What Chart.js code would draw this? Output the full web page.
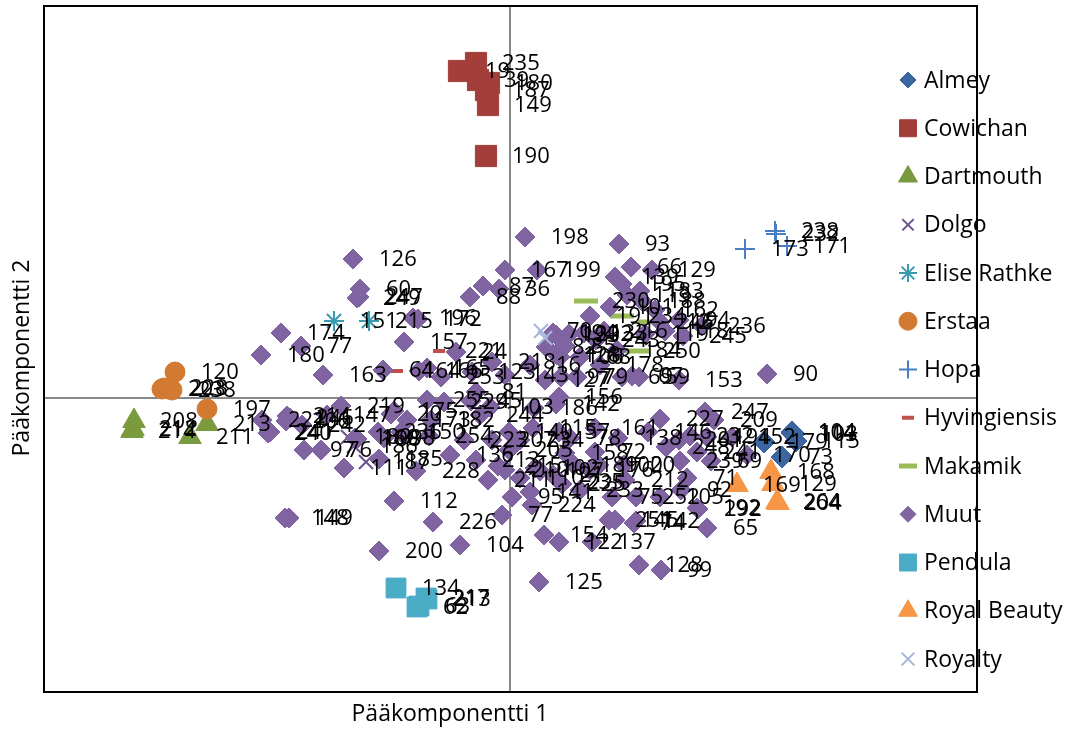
<!DOCTYPE html>
<html>
<head>
<meta charset="utf-8">
<script src="https://cdn.jsdelivr.net/npm/chart.js@4.4.1/dist/chart.umd.min.js"></script>
<style>
  html, body { margin: 0; background: #fff; }
</style>
</head>
<body>
<canvas id="pca" width="1074" height="729"></canvas>
<script>
// principal component scores: [PC1, PC2, id]
const almey = [[2.82,-0.34,'104'],[2.82,-0.35,'114'],[2.84,-0.36,'103'],[2.86,-0.43,'115'],[2.54,-0.44,'179'],[2.72,-0.59,'73']];
const cowichan = [[-0.34,3.35,'235'],[-0.51,3.27,'19'],[-0.32,3.18,'39'],[-0.21,3.15,'180'],[-0.24,3.08,'187'],[-0.22,2.93,'149'],[-0.24,2.42,'190']];
const dartmouth = [[-3.76,-0.23,'208'],[-3.77,-0.31,'212'],[-3.78,-0.33,'214'],[-3.03,-0.26,'213'],[-3.20,-0.39,'211']];
const dolgo = [[-1.62,-0.39,'180'],[-1.56,-0.48,'186'],[-1.44,-0.64,'187']];
const eliseRathke = [[-1.76,0.77,'151'],[-1.41,0.77,'215']];
const erstaa = [[-3.35,0.26,'120'],[-3.48,0.09,'203'],[-3.46,0.10,'228'],[-3.38,0.08,'238'],[-3.03,-0.11,'197']];
const hopa = [[2.35,1.49,'173'],[2.65,1.67,'238'],[2.66,1.64,'232'],[2.77,1.52,'171']];
const hyvingiensis = [[-1.13,0.27,'164'],[-0.71,0.47,'221']];
const makamik = [[0.76,0.97,'230'],[1.12,0.82,'234'],[1.40,0.76,'246'],[1.27,0.47,'250']];
const muut = [
  [0.15,1.61,'198'],[1.09,1.54,'93'],[-1.57,1.39,'126'],[-0.05,1.28,'167'],[0.27,1.28,'199'],
  [1.21,1.31,'66'],[1.42,1.28,'129'],[1.05,1.21,'139'],[1.12,1.14,'195'],[1.30,1.07,'183'],
  [1.32,0.97,'188'],[1.45,0.88,'162'],[1.50,0.76,'12'],[1.69,0.78,'94'],[1.92,0.72,'236'],
  [1.73,0.62,'245'],[1.55,0.67,'118'],[1.35,0.64,'119'],[-1.50,1.09,'60'],[-1.53,1.00,'249'],
  [-1.51,1.01,'247'],[-0.27,1.12,'87'],[-0.40,1.01,'88'],[-0.11,1.09,'36'],[-0.97,0.80,'196'],
  [-0.92,0.79,'172'],[-2.29,0.65,'174'],[-2.09,0.52,'77'],[-2.49,0.43,'180'],[-1.87,0.23,'163'],
  [-1.06,0.56,'157'],[0.43,0.65,'194'],[0.46,0.63,'193'],[0.59,0.64,'202'],[0.74,0.65,'133'],
  [0.94,0.67,'216'],[0.86,0.58,'243'],[0.36,0.51,'82'],[0.55,0.52,'85'],[0.47,0.43,'128'],
  [0.50,0.41,'106'],[0.70,0.41,'68'],[-0.18,0.36,'218'],[0.20,0.33,'16'],[0.51,0.21,'97'],
  [0.67,0.21,'79'],[1.12,0.21,'69'],[1.22,0.22,'67'],[1.29,0.21,'59'],[1.69,0.18,'153'],
  [2.57,0.24,'90'],[-0.54,0.46,'24'],[-1.27,0.28,'64'],[-0.83,0.30,'165'],[-0.91,0.27,'166'],
  [-0.69,0.21,'253'],[-0.34,0.06,'81'],[-0.83,-0.02,'255'],[-0.66,-0.04,'229'],[-0.39,-0.03,'45'],
  [-1.16,-0.13,'175'],[-1.19,-0.16,'20'],[-1.03,-0.22,'173'],[-0.79,-0.22,'182'],[-0.20,-0.09,'103'],
  [-0.30,-0.17,'244'],[-0.81,-0.38,'254'],[-0.46,-0.42,'223'],[-0.01,-0.34,'140'],[-0.34,-0.62,'213'],
  [-0.01,-0.52,'205'],[-0.05,-0.72,'210'],[-0.12,-0.68,'215'],[0.25,-0.70,'102'],[0.30,-0.73,'107'],
  [-1.55,-0.40,'160'],[-1.53,-0.41,'108'],[-1.26,-0.40,'98'],[-2.23,-0.18,'214'],[-2.20,-0.20,'246'],
  [-1.83,-0.17,'147'],[-1.69,-0.08,'219'],[-2.42,-0.35,'240'],[-2.40,-0.34,'241'],[-2.24,-0.23,'206'],
  [-2.06,-0.52,'97'],[-1.89,-0.52,'76'],[-1.66,-0.70,'111'],[-0.94,-0.73,'228'],[-1.16,-1.03,'112'],
  [0.49,0.01,'156'],[0.24,-0.10,'186'],[0.46,-0.06,'142'],[0.49,-0.34,'57'],[0.60,-0.40,'78'],
  [0.85,-0.30,'161'],[0.55,-0.55,'158'],[0.85,-0.54,'72'],[0.64,-0.67,'189'],[0.89,-0.67,'100'],
  [1.14,-0.67,'20'],[0.43,-0.77,'21'],[0.50,-0.84,'235'],[0.52,-0.86,'225'],[0.20,-0.94,'141'],
  [0.02,-0.99,'95'],[0.22,-1.07,'224'],[-0.08,-1.17,'77'],[1.02,-0.99,'75'],[1.26,-0.99,'252'],
  [0.99,-1.22,'251'],[1.24,-1.25,'74'],[1.26,-1.23,'142'],[0.34,-1.37,'154'],[0.49,-1.44,'122'],
  [0.82,-1.44,'137'],[1.29,-1.67,'128'],[1.51,-1.72,'99'],[0.29,-1.84,'125'],[-0.50,-1.47,'104'],
  [-0.77,-1.24,'226'],[-1.31,-1.53,'200'],[-2.25,-1.20,'148'],[-2.21,-1.20,'149'],[1.50,-0.21,'227'],
  [1.95,-0.14,'247'],[2.04,-0.22,'209'],[1.69,-0.42,'201'],[1.97,-0.39,'194'],[2.22,-0.39,'152'],
  [2.37,-0.57,'170'],[1.70,-0.63,'239'],[2.01,-0.63,'69'],[1.71,-0.92,'92'],[1.77,-0.80,'71'],
  [1.87,-1.10,'192'],[1.88,-1.11,'292'],[1.97,-1.30,'65'],[-2.48,-0.22,'221'],[-2.08,-0.27,'242'],
  [-1.31,-0.61,'185'],[-1.32,-0.34,'236'],[-1.09,-0.34,'150'],[-0.60,-0.57,'136'],[-0.18,-0.42,'207'],
  [0.10,-0.42,'234'],[0.23,-0.30,'115'],[0.10,-0.80,'110'],[-0.22,-0.82,'211'],[0.70,-0.92,'233'],
  [0.80,-0.72,'176'],[1.15,-0.82,'212'],[1.38,-0.34,'146'],[1.80,-0.38,'232'],[1.87,-0.54,'241'],
  [1.56,-0.49,'248'],[1.08,-0.40,'138'],[1.05,-1.22,'145'],[1.50,-0.99,'105'],
  [0.80,0.82,'191'],[1.00,0.91,'101'],[1.17,1.03,'113'],[0.90,0.33,'178'],
  [1.07,0.48,'184'],[0.35,0.18,'127'],[-0.05,0.23,'143'],[-0.38,0.26,'123']
];
const pendula = [[-1.14,-1.90,'134'],[-0.84,-2.00,'217'],[-0.83,-2.01,'213'],[-0.93,-2.09,'62'],[-0.91,-2.08,'63']];
const royalBeauty = [[2.27,-0.87,'169'],[2.61,-0.74,'168'],[2.63,-0.86,'129'],[2.67,-1.04,'264'],[2.68,-1.05,'204']];
const royalty = [[0.31,0.67,'70'],[0.35,0.60,'']];

const seriesNames = ['Almey','Cowichan','Dartmouth','Dolgo','Elise Rathke','Erstaa','Hopa','Hyvingiensis','Makamik','Muut','Pendula','Royal Beauty','Royalty'];
const seriesData = [almey,cowichan,dartmouth,dolgo,eliseRathke,erstaa,hopa,hyvingiensis,makamik,muut,pendula,royalBeauty,royalty];

// marker look per series, Excel 2007 palette
const looks = [
  {color:'#3B66A2', style:'rectRot',  r:11, bw:1, lr:8},
  {color:'#A33E3A', style:'rect',     r:15, bw:1, lr:12},
  {color:'#7A9A3E', style:'triangle', r:13, bw:1, lr:11},
  {color:'#6A5290', style:'crossRot', r:10, bw:2, lr:8},
  {color:'#3A9AB0', style:'star',     r:10, bw:2, lr:9},
  {color:'#D27A32', style:'circle',   r:10, bw:1, lr:9},
  {color:'#4A7EC4', style:'cross',    r:10, bw:2, lr:9},
  {color:'#C0504D', style:'line',     r:6,  bw:4, lr:6},
  {color:'#9BBB59', style:'line',     r:12, bw:5, lr:9},
  {color:'#8064A2', style:'rectRot',  r:10, bw:1, lr:8},
  {color:'#4BACC6', style:'rect',     r:14, bw:1, lr:12},
  {color:'#F79646', style:'triangle', r:13, bw:1, lr:11},
  {color:'#A5B6DA', style:'crossRot', r:10, bw:2, lr:9}
];

const FONT = '22px "Open Sans", "Liberation Sans", sans-serif';
const BIG_FONT = '23px "Open Sans", "Liberation Sans", sans-serif';

const datasets = seriesNames.map((name, i) => ({
  label: name,
  data: seriesData[i].map(p => ({x: p[0], y: p[1], id: p[2]})),
  pointStyle: looks[i].style,
  pointRadius: looks[i].r,
  pointHoverRadius: looks[i].r,
  pointBorderWidth: looks[i].bw,
  backgroundColor: looks[i].color,
  borderColor: looks[i].color,
  order: -i
}));

const pointLabels = {
  id: 'pointLabels',
  afterDatasetsDraw(chart) {
    const ctx = chart.ctx;
    ctx.save();
    ctx.font = FONT;
    ctx.fillStyle = '#000';
    ctx.textAlign = 'left';
    ctx.textBaseline = 'middle';
    chart.data.datasets.forEach((ds, i) => {
      chart.getDatasetMeta(i).data.forEach((el, j) => {
        const id = ds.data[j].id;
        if (id) ctx.fillText(id, el.x + 26, el.y + 1);
      });
    });
    ctx.restore();
  }
};

const frameAndLegend = {
  id: 'frameAndLegend',
  afterDraw(chart) {
    const ctx = chart.ctx;
    const a = chart.chartArea;
    ctx.save();
    ctx.strokeStyle = '#000';
    ctx.lineWidth = 2;
    ctx.strokeRect(a.left, a.top, a.right - a.left, a.bottom - a.top);

    // axis titles
    ctx.fillStyle = '#000';
    ctx.font = BIG_FONT;
    ctx.textAlign = 'center';
    ctx.textBaseline = 'middle';
    ctx.fillText('Pääkomponentti 1', 450, 714);
    ctx.save();
    ctx.translate(22, 358);
    ctx.rotate(-Math.PI / 2);
    ctx.fillText('Pääkomponentti 2', 0, 0);
    ctx.restore();

    // legend
    ctx.textAlign = 'left';
    seriesNames.forEach((name, i) => {
      const y = 80 + i * 48.25;
      const lk = looks[i];
      ctx.fillStyle = lk.color;
      ctx.strokeStyle = lk.color;
      ctx.lineWidth = lk.bw;
      Chart.helpers.drawPoint(ctx, {pointStyle: lk.style, radius: lk.lr, rotation: 0, borderWidth: lk.bw}, 908, y);
      ctx.fillStyle = '#000';
      ctx.fillText(name, 924, y + 1);
    });
    ctx.restore();
  }
};

const zeroLine = c => (c.tick && c.tick.value === 0) ? '#878787' : 'rgba(0,0,0,0)';

new Chart(document.getElementById('pca'), {
  type: 'scatter',
  data: { datasets: datasets },
  options: {
    responsive: false,
    animation: false,
    devicePixelRatio: 1,
    layout: { autoPadding: false, padding: { left: 44, right: 97, top: 6, bottom: 37 } },
    plugins: { legend: { display: false }, tooltip: { enabled: false } },
    scales: {
      x: {
        type: 'linear', min: -4.66, max: 4.67,
        ticks: { display: false, stepSize: 1 },
        grid: { drawTicks: false, color: zeroLine, lineWidth: 2 },
        border: { display: false }
      },
      y: {
        type: 'linear', min: -2.94, max: 3.92,
        ticks: { display: false, stepSize: 1 },
        grid: { drawTicks: false, color: zeroLine, lineWidth: 2 },
        border: { display: false }
      }
    }
  },
  plugins: [pointLabels, frameAndLegend]
});
</script>
</body>
</html>
